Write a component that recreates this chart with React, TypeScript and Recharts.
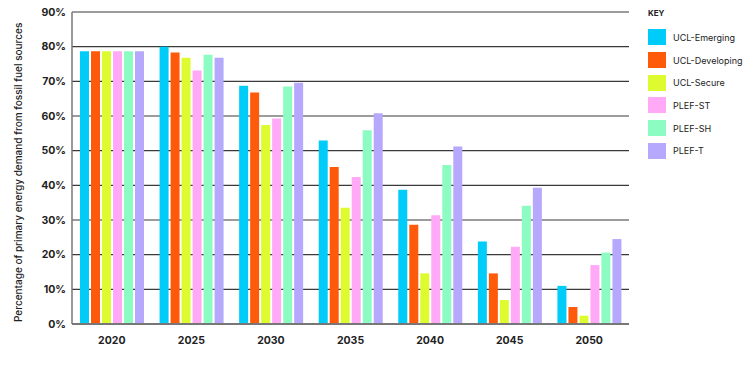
import React from "react";
import {
  BarChart,
  Bar,
  XAxis,
  YAxis,
  CartesianGrid,
} from "recharts";

const years = ["2020", "2025", "2030", "2035", "2040", "2045", "2050"];

const uclEmerging = [78.7, 80.0, 68.7, 52.9, 38.7, 23.8, 11.0];
const uclDeveloping = [78.7, 78.3, 66.8, 45.3, 28.6, 14.6, 4.9];
const uclSecure = [78.7, 76.8, 57.4, 33.5, 14.6, 6.9, 2.4];
const plefST = [78.7, 73.1, 59.3, 42.4, 31.4, 22.3, 17.0];
const plefSH = [78.7, 77.7, 68.5, 55.9, 45.9, 34.1, 20.6];
const plefT = [78.7, 76.8, 69.6, 60.8, 51.2, 39.3, 24.5];

const yTicks = [0, 10, 20, 30, 40, 50, 60, 70, 80, 90];

const series = [
  { key: "ucl-emerging", name: "UCL-Emerging", color: "#00CCFA" },
  { key: "ucl-developing", name: "UCL-Developing", color: "#FF5A0A" },
  { key: "ucl-secure", name: "UCL-Secure", color: "#DDFB2E" },
  { key: "plef-st", name: "PLEF-ST", color: "#FFA9F7" },
  { key: "plef-sh", name: "PLEF-SH", color: "#8CFCC2" },
  { key: "plef-t", name: "PLEF-T", color: "#B5A8FD" },
];

const values = [uclEmerging, uclDeveloping, uclSecure, plefST, plefSH, plefT];

const data = years.map((year, i) => {
  const row: Record<string, string | number> = { year };
  series.forEach((s, j) => {
    row[s.key] = values[j][i];
  });
  return row;
});

const font = "Inter, 'Noto Sans', sans-serif";

// legend drawn beside the plot, not through Recharts so it doesn't eat plot width
function KeyLegend() {
  return (
    <div style={{ position: "absolute", left: 648, top: 7, fontFamily: font, color: "#222" }}>
      <div style={{ fontSize: 8, fontWeight: 700, height: 14, lineHeight: "12px", marginBottom: 5 }}>
        KEY
      </div>
      {series.map((s) => (
        <div key={s.key} style={{ display: "flex", alignItems: "center", height: 22.7 }}>
          <div style={{ width: 18, height: 16, background: s.color, marginRight: 7 }} />
          <span style={{ fontSize: 9 }}>{s.name}</span>
        </div>
      ))}
    </div>
  );
}

export default function App() {
  return (
    <div style={{ position: "absolute", left: 0, top: 0, width: 754, height: 377, background: "#fff" }}>
      <BarChart
        width={754}
        height={377}
        data={data}
        margin={{ top: 12, right: 125, bottom: 23, left: 0 }}
        barCategoryGap={7}
        barGap={2}
        barSize={9}
      >
        <CartesianGrid
          yAxisId="left"
          vertical={false}
          stroke="#3a3a3a"
          strokeWidth={1.2}
          strokeOpacity={1}
        />
        <XAxis
          dataKey="year"
          height={30}
          tickLine={false}
          tickSize={8}
          tickMargin={5}
          axisLine={{ stroke: "#777", strokeWidth: 2 }}
          tick={{ fontFamily: font, fontSize: 10.5, fontWeight: 700, fill: "#222" }}
        />
        <YAxis
          yAxisId="left"
          width={72}
          domain={[0, 90]}
          ticks={yTicks}
          interval={0}
          tickLine={false}
          tickSize={4}
          tickMargin={2}
          axisLine={{ stroke: "#777", strokeWidth: 1.5 }}
          tickFormatter={(v) => `${v}%`}
          tick={{ fontFamily: font, fontSize: 10.5, fontWeight: 700, fill: "#222" }}
          label={{
            value: "Percentage of primary energy demand from fossil fuel sources",
            angle: -90,
            position: "insideLeft",
            offset: 0,
            dx: 18,
            dy: 154,
            style: { fontFamily: font, fontSize: 10, fontWeight: 500, fill: "#222", textAnchor: "start" },
          }}
        />
        <YAxis
          yAxisId="right"
          orientation="right"
          width={0}
          domain={[0, 90]}
          tick={false}
          tickLine={false}
          axisLine={{ stroke: "#777", strokeWidth: 1.5 }}
        />
        {series.map((s) => (
          <Bar
            key={s.key}
            yAxisId="left"
            dataKey={s.key}
            name={s.name}
            fill={s.color}
            isAnimationActive={false}
          />
        ))}
      </BarChart>
      <KeyLegend />
    </div>
  );
}
